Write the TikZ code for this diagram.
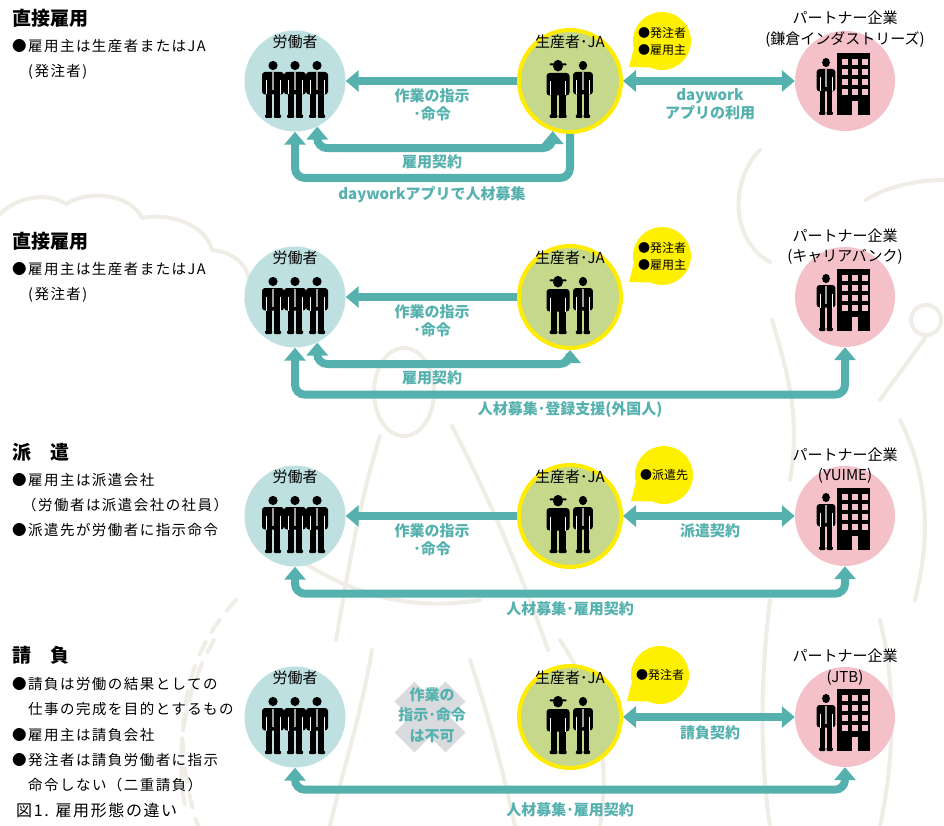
\documentclass[tikz,border=0pt]{standalone}
\usepackage{fontspec}
\setmainfont{Noto Sans CJK JP}
\newfontfamily\spacedfont{Noto Sans CJK JP}[LetterSpace=10]
\usetikzlibrary{arrows.meta,calc}

\definecolor{linkteal}{HTML}{55B1AE}
\definecolor{workerfill}{HTML}{BEE0E0}
\definecolor{farmfill}{HTML}{C5D88B}
\definecolor{ringyellow}{HTML}{FFEC00}
\definecolor{partnerfill}{HTML}{F4C1C8}
\definecolor{bubblefill}{HTML}{FFF000}
\definecolor{sketchline}{HTML}{EFEDE6}
\definecolor{crossgray}{HTML}{D9DBDF}
\definecolor{tiegray}{HTML}{A0A0A0}

\tikzset{
  worker/.style={circle, fill=workerfill, minimum size=101pt, inner sep=0pt},
  producer/.style={circle, fill=farmfill, draw=ringyellow, line width=4pt, minimum size=102pt, inner sep=0pt},
  partner/.style={circle, fill=partnerfill, minimum size=100pt, inner sep=0pt},
  bubble/.style={circle, fill=bubblefill, minimum size=58pt, inner sep=0pt, align=left,
    font=\fontsize{12}{17}\selectfont},
  lbl/.style={font=\fontsize{15}{18}\selectfont, inner sep=0pt, align=center},
  tealtag/.style={text=linkteal, font=\bfseries\fontsize{15}{18}\selectfont, inner sep=0pt, align=center},
  heading/.style={anchor=west, font=\bfseries\fontsize{19}{22}\selectfont, inner sep=0pt},
  notetext/.style={anchor=west, font=\spacedfont\fontsize{14.5}{18}\selectfont, inner sep=0pt},
  captiontext/.style={anchor=west, font=\spacedfont\fontsize{16}{18}\selectfont, inner sep=0pt},
  link/.style={draw=linkteal, line width=8pt, rounded corners=10pt, -{Triangle[width=21pt,length=13pt]}},
  twoway/.style={link, {Triangle[width=21pt,length=13pt]}-{Triangle[width=21pt,length=13pt]}},
  sketch/.style={draw=sketchline, line width=4pt, line cap=round, line join=round},
  tail/.style={fill=bubblefill},
  % a man in a suit, drawn around his own centre
  suitman/.pic={
    \fill (0,-24) circle (4.6pt);
    \fill[rounded corners=3pt] (-11,-17.5) -- (11,-17.5) -- (11,5) -- (-11,5) -- cycle;
    \fill (-7,3) rectangle (-0.8,26);
    \fill (0.8,3) rectangle (7,26);
    \fill[rounded corners=1pt] (-8,25) rectangle (-0.8,28.5);
    \fill[rounded corners=1pt] (0.8,25) rectangle (8,28.5);
    \draw[white, line width=0.8pt] (-7,-9) -- (-7,5) (7,-9) -- (7,5);
    \draw[tiegray, line width=1.4pt] (0,-17) -- (0,1);
  },
  % a farmer with a hat
  farmer/.pic={
    \fill (0,-23) circle (4.9pt);
    \fill (-4.6,-25) arc[start angle=180, end angle=0, radius=4.6pt] -- cycle;
    \fill[rounded corners=0.8pt] (-8.5,-26.2) rectangle (8.5,-24.2);
    \fill[rounded corners=3pt] (-11.5,-16.5) -- (11.5,-16.5) -- (11.5,6) -- (-11.5,6) -- cycle;
    \fill (-7.5,3) rectangle (-0.7,26);
    \fill (0.7,3) rectangle (7.5,26);
    \fill[rounded corners=1pt] (-8.5,25) rectangle (-0.7,28.5);
    \fill[rounded corners=1pt] (0.7,25) rectangle (8.5,28.5);
    \draw[white, line width=0.8pt] (-7.5,-8) -- (-7.5,6) (7.5,-8) -- (7.5,6);
  },
  % an office building with a man beside it
  office/.pic={
    \pic[xscale=0.85] at (-19,5.5) {suitman};
    \fill (-8,-28) rectangle (25,34);
    \foreach \cx in {0,10,20}
      \foreach \cy in {-19,-9,1,11}
        \fill[partnerfill] (\cx-2.7,\cy-2.7) rectangle (\cx+2.7,\cy+2.7);
    \fill[partnerfill] (7,20) rectangle (13,34.5);
  },
}

\begin{document}
\begin{tikzpicture}[x=1pt,y=-1pt]
\useasboundingbox (0,0) rectangle (944,826);
\fill[white] (0,0) rectangle (944,826);

% faint line drawing of people in the background
\draw[sketch] (0,214) .. controls (18,196) and (48,192) .. (66,204)
  .. controls (92,188) and (132,196) .. (142,218)
  .. controls (172,212) and (206,226) .. (212,250)
  .. controls (240,252) and (258,276) .. (246,300);
\draw[sketch] (404,392) ellipse (30pt and 44pt);
\draw[sketch] (380,436) .. controls (360,500) and (350,560) .. (336,640);
\draw[sketch] (452,426) .. controls (490,500) and (520,570) .. (548,650);
\draw[sketch] (372,650) .. controls (360,720) and (340,780) .. (330,826);
\draw[sketch] (470,660) .. controls (490,720) and (505,780) .. (515,826);
\draw[sketch] (300,560) .. controls (360,600) and (420,610) .. (480,600);
\draw[sketch] (560,640) .. controls (600,700) and (610,760) .. (600,826);
\draw[sketch] (760,150) .. controls (730,180) and (730,240) .. (770,262);
\draw[sketch] (772,320) .. controls (790,380) and (800,420) .. (790,480);
\draw[sketch] (900,420) .. controls (930,480) and (930,540) .. (915,600);
\draw[sketch] (880,400) -- (925,338);
\draw[sketch] (926,320) circle (15pt);
\draw[sketch] (944,180) .. controls (910,180) and (880,190) .. (866,200);
\draw[sketch] (770,600) .. controls (760,680) and (760,760) .. (770,826);
\draw[sketch] (880,620) .. controls (900,700) and (890,780) .. (880,826);
\draw[sketch, dash pattern=on 14pt off 12pt] (236,600) .. controls (180,660) and (170,740) .. (198,826);
\draw[sketch, dash pattern=on 14pt off 12pt] (214,640) .. controls (180,700) and (176,760) .. (186,812);

% left column: headings and notes
\node[heading] (h1) at (12,18) {直接雇用};
\node[notetext] (n1a) at (12,46) {●雇用主は生産者またはJA};
\node[notetext] (n1b) at (28,72) {(発注者)};

\node[heading] (h2) at (12,241) {直接雇用};
\node[notetext] (n2a) at (12,269) {●雇用主は生産者またはJA};
\node[notetext] (n2b) at (28,295) {(発注者)};

\node[heading] (h3) at (12,452) {派　遣};
\node[notetext] (n3a) at (12,480) {●雇用主は派遣会社};
\node[notetext] (n3b) at (22,505) {（労働者は派遣会社の社員）};
\node[notetext] (n3c) at (12,530) {●派遣先が労働者に指示命令};

\node[heading] (h4) at (12,655) {請　負};
\node[notetext] (n4a) at (12,684) {●請負は労働の結果としての};
\node[notetext] (n4b) at (28,709) {仕事の完成を目的とするもの};
\node[notetext] (n4c) at (12,735) {●雇用主は請負会社};
\node[notetext] (n4d) at (12,760) {●発注者は請負労働者に指示};
\node[notetext] (n4e) at (28,785) {命令しない（二重請負）};
\node[captiontext] (cap) at (16,810) {図1. 雇用形態の違い};

% ---------- row 1 ----------
\node[worker] (w1) at (295,81) {};
\node[producer] (p1) at (570,81) {};
\node[partner] (c1) at (845,81) {};
\foreach \dx in {-22,0,22} \pic at (295+\dx,89.5) {suitman};
\pic at (558,89.5) {farmer};
\pic[xscale=0.9] at (583,89.5) {suitman};
\pic at (845,81) {office};
\node[lbl] (w1t) at (295,42) {労働者};
\node[lbl] (p1t) at (570,42) {生産者･JA};
\node[lbl] (c1t) at (845,18) {パートナー企業};
\node[lbl] (c1s) at (845,40) {(鎌倉インダストリーズ)};
\node[bubble] (b1) at (662,41) {●発注者\\●雇用主};
\fill[tail] (b1.195) -- ($(b1.center)+(-33,26)$) -- (b1.245) -- cycle;

\draw[link] (p1.west) -- (w1.east);
\draw[twoway] (p1.east) -- (c1.west);
\draw[twoway] (p1.-109) -- ++(0,17) -| (w1.-64);
\draw[link] (p1.south) -- ++(0,44) -| (w1.south);
\node[tealtag] (t1a) at (432,105) {作業の指示\\･命令};
\node[tealtag] (t1b) at (710,104) {daywork\\アプリの利用};
\node[tealtag] (t1c) at (432,162) {雇用契約};
\node[tealtag] (t1d) at (432,195) {dayworkアプリで人材募集};

% ---------- row 2 ----------
\node[worker] (w2) at (295,297) {};
\node[producer] (p2) at (570,297) {};
\node[partner] (c2) at (845,297) {};
\foreach \dx in {-22,0,22} \pic at (295+\dx,305.5) {suitman};
\pic at (558,305.5) {farmer};
\pic[xscale=0.9] at (583,305.5) {suitman};
\pic at (845,297) {office};
\node[lbl] (w2t) at (295,258) {労働者};
\node[lbl] (p2t) at (570,258) {生産者･JA};
\node[lbl] (c2t) at (845,236) {パートナー企業};
\node[lbl] (c2s) at (845,257) {(キャリアバンク)};
\node[bubble] (b2) at (662,256) {●発注者\\●雇用主};
\fill[tail] (b2.195) -- ($(b2.center)+(-33,26)$) -- (b2.245) -- cycle;

\draw[link] (p2.west) -- (w2.east);
\draw[twoway] (p2.south) -- ++(0,14) -| (w2.-64);
\draw[twoway] (w2.south) -- ++(0,47) -| (c2.south);
\node[tealtag] (t2a) at (432,321) {作業の指示\\･命令};
\node[tealtag] (t2c) at (432,378) {雇用契約};
\node[tealtag] (t2d) at (570,410) {人材募集･登録支援(外国人)};

% ---------- row 3 ----------
\node[worker] (w3) at (295,516) {};
\node[producer] (p3) at (570,516) {};
\node[partner] (c3) at (845,516) {};
\foreach \dx in {-22,0,22} \pic at (295+\dx,524.5) {suitman};
\pic at (558,524.5) {farmer};
\pic[xscale=0.9] at (583,524.5) {suitman};
\pic at (845,516) {office};
\node[lbl] (w3t) at (295,477) {労働者};
\node[lbl] (p3t) at (570,477) {生産者･JA};
\node[lbl] (c3t) at (845,455) {パートナー企業};
\node[lbl] (c3s) at (845,476) {(YUIME)};
\node[bubble] (b3) at (664,475) {●派遣先};
\fill[tail] (b3.195) -- ($(b3.center)+(-33,26)$) -- (b3.245) -- cycle;

\draw[link] (p3.west) -- (w3.east);
\draw[twoway] (p3.east) -- (c3.west);
\draw[twoway] (w3.south) -- ++(0,27) -| (c3.south);
\node[tealtag] (t3a) at (432,540) {作業の指示\\･命令};
\node[tealtag] (t3b) at (710,531) {派遣契約};
\node[tealtag] (t3d) at (570,609) {人材募集･雇用契約};

% ---------- row 4 ----------
\node[worker] (w4) at (295,717) {};
\node[producer] (p4) at (570,717) {};
\node[partner] (c4) at (845,717) {};
\foreach \dx in {-22,0,22} \pic at (295+\dx,725.5) {suitman};
\pic at (558,725.5) {farmer};
\pic[xscale=0.9] at (583,725.5) {suitman};
\pic at (845,717) {office};
\node[lbl] (w4t) at (295,678) {労働者};
\node[lbl] (p4t) at (570,678) {生産者･JA};
\node[lbl] (c4t) at (845,656) {パートナー企業};
\node[lbl] (c4s) at (845,678) {(JTB)};
\node[bubble] (b4) at (660,675) {●発注者};
\fill[tail] (b4.195) -- ($(b4.center)+(-33,26)$) -- (b4.245) -- cycle;

% the crossed-out instruction
\fill[crossgray, rotate around={45:(430,717)}] (394,703) rectangle (466,731);
\fill[crossgray, rotate around={-45:(430,717)}] (394,703) rectangle (466,731);
\node[tealtag, font=\bfseries\fontsize{15}{20.5}\selectfont] (t4a) at (432,715) {作業の\\指示･命令\\は不可};

\draw[twoway] (p4.east) -- (c4.west);
\draw[twoway] (w4.south) -- ++(0,22) -| (c4.south);
\node[tealtag] (t4b) at (710,733) {請負契約};
\node[tealtag] (t4d) at (570,810) {人材募集･雇用契約};
\end{tikzpicture}
\end{document}
